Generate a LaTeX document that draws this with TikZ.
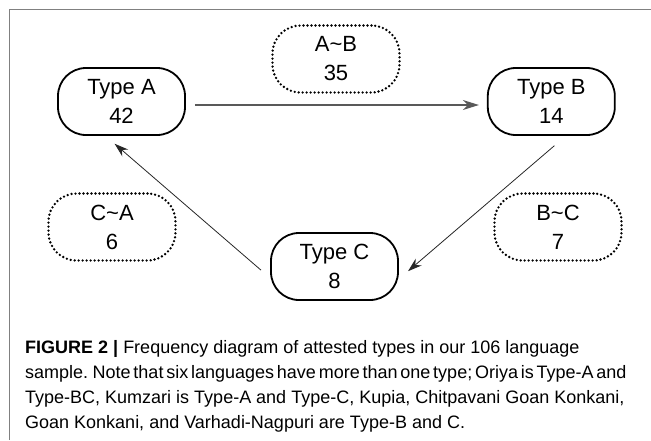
\documentclass[tikz,border=0pt]{standalone}
\usepackage{fontspec}
\setmainfont{Liberation Sans}
\usetikzlibrary{arrows.meta,positioning}

\begin{document}
\begin{tikzpicture}[
  x=1pt, y=-1pt,
  every node/.style={font=\fontsize{22}{29}\selectfont},
  type/.style={draw, line width=1.8pt, rounded corners=28pt, align=center,
               minimum width=127pt, minimum height=67pt, inner sep=0pt},
  pair/.style={type, line width=2.6pt, dash pattern=on 0pt off 4pt, line cap=round},
  arr/.style={-{Stealth[length=16pt, width=10pt, inset=5pt]}, line width=1.3pt, black!65},
  diag/.style={-{Stealth[length=14pt, width=9pt, inset=4.5pt]}, line width=0.8pt, black!85},
  frame/.style={draw=black!50, line width=1pt}
]
  \useasboundingbox (0,0) rectangle (651,440);
  \draw[frame] (9,440) |- (651,9);

  \node[type] (ta) at (121.5,101.5) {Type A\\42};
  \node[type, right=301pt of ta] (tb) {Type B\\14};
  \node[type] (tc) at (334.5,266.5) {Type C\\8};
  \node[pair] (ab) at (336,59)  {A\textasciitilde B\\35};
  \node[pair] (ca) at (112,227) {C\textasciitilde A\\6};
  \node[pair] (bc) at (558,227) {B\textasciitilde C\\7};

  \draw[arr, shorten <=9pt, shorten >=8pt] ([yshift=-3.5pt]ta.east) -- ([yshift=-3.5pt]tb.west);
  \draw[diag, shorten <=15pt, shorten >=12pt] ([xshift=14.5pt]tb.south) -- ([yshift=-12.5pt]tc.east);
  \draw[diag, shorten <=12pt, shorten >=12pt] ([yshift=-11.5pt]tc.west) -- ([xshift=-16pt]ta.south);

  \node[anchor=north west, inner sep=0pt, align=left,
        font=\fontsize{18}{25}\selectfont] (cap) at (25,340)
    {\textbf{FIGURE 2 |} Frequency diagram of attested types in our 106 language\\
     {\spaceskip=2.8pt sample. Note that six languages have more than one type; Oriya is Type-A and}\\
     Type-BC, Kumzari is Type-A and Type-C, Kupia, Chitpavani Goan Konkani,\\
     Goan Konkani, and Varhadi-Nagpuri are Type-B and C.};
\end{tikzpicture}
\end{document}
